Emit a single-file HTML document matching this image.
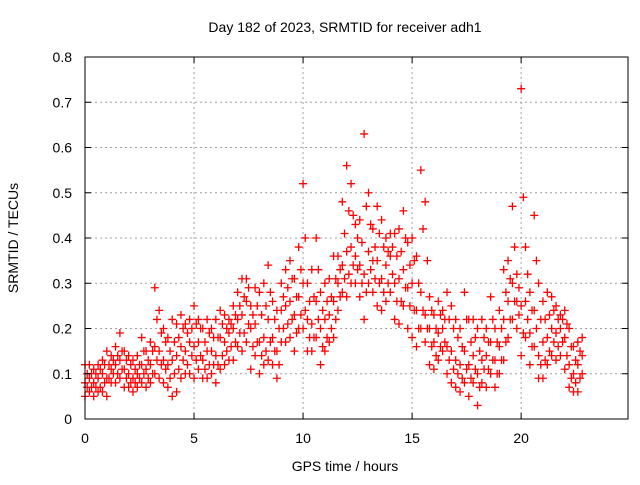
<!DOCTYPE html>
<html><head><meta charset="utf-8"><style>
body{margin:0;background:#fff}
svg text{font-family:"Liberation Sans",sans-serif;font-size:14px;fill:#000}
</style></head><body>
<svg id="chart" width="640" height="480" viewBox="0 0 640 480" xmlns="http://www.w3.org/2000/svg">
<text x="345" y="32" text-anchor="middle">Day 182 of 2023, SRMTID for receiver adh1</text>
<g id="grid"></g>
<g id="marks"></g>
<rect x="85" y="57" width="543" height="362" fill="none" stroke="#000" stroke-width="1"/>
<g id="ticks"></g>
<text transform="translate(18,238) rotate(-90)" text-anchor="middle">SRMTID / TECUs</text>
<text x="345" y="471" text-anchor="middle">GPS time / hours</text>
</svg>
<script>
const xTicks=[0,5,10,15,20];
const yTicks=[0,0.1,0.2,0.3,0.4,0.5,0.6,0.7,0.8];
const yTickLabels=["0","0.1","0.2","0.3","0.4","0.5","0.6","0.7","0.8"];
const tStart=0, tStep=0.2, tHalfStart=0.1;
const lo=[.05,.06,.05,.06,.06,.05,.08,.08,.09,.07,.07,.06,.07,.08,.07,.08,.10,.09,.08,.07,.05,.06,.09,.10,.10,.09,.11,.09,.09,.10,.08,.11,.12,.13,.13,.16,.15,.17,.11,.14,.10,.12,.13,.12,.09,.17,.17,.18,.15,.20,.20,.15,.15,.18,.12,.15,.17,.18,.24,.28,.27,.30,.30,.27,.22,.30,.28,.25,.24,.26,.28,.22,.21,.25,.20,.18,.16,.20,.17,.12,.11,.13,.15,.10,.08,.07,.06,.08,.05,.08,.03,.08,.07,.10,.07,.10,.13,.18,.22,.20,.14,.18,.12,.16,.09,.09,.12,.14,.13,.14,.11,.07,.06,.06,.10];
const mid=[.08,.09,.08,.09,.10,.09,.11,.12,.13,.11,.10,.09,.10,.12,.11,.12,.16,.15,.13,.12,.13,.14,.16,.15,.17,.16,.17,.13,.15,.15,.14,.18,.17,.19,.20,.22,.23,.26,.20,.21,.17,.18,.22,.18,.15,.24,.25,.26,.23,.27,.30,.22,.21,.26,.20,.22,.23,.26,.30,.34,.37,.38,.36,.34,.32,.37,.35,.35,.31,.34,.36,.30,.31,.33,.29,.30,.24,.28,.23,.20,.17,.19,.20,.16,.15,.13,.12,.15,.12,.14,.10,.13,.14,.17,.13,.16,.22,.26,.30,.26,.25,.26,.19,.24,.14,.17,.18,.20,.19,.20,.18,.12,.10,.12,.14];
const hi=[.12,.12,.11,.12,.13,.15,.14,.16,.19,.15,.14,.13,.14,.18,.15,.17,.29,.24,.20,.18,.22,.21,.23,.21,.22,.25,.22,.20,.22,.20,.22,.24,.23,.22,.25,.28,.31,.31,.25,.29,.28,.30,.34,.26,.24,.30,.33,.35,.31,.38,.52,.30,.33,.40,.28,.30,.31,.36,.36,.48,.56,.52,.43,.44,.63,.50,.42,.47,.44,.40,.41,.41,.42,.46,.39,.40,.36,.55,.48,.27,.23,.26,.24,.28,.25,.22,.20,.28,.22,.22,.20,.22,.20,.27,.20,.24,.33,.35,.47,.32,.73,.38,.28,.45,.30,.26,.28,.27,.25,.23,.24,.20,.16,.17,.18];
const halfLow=[.07,.07,.07,.07,.08,.09,.10,.10,.11,.09,.08,.08,.09,.10,.09,.10,.13,.12,.11,.09,.10,.11,.13,.12,.14,.13,.14,.11,.12,.12,.12,.14,.15,.16,.17,.19,.19,.21,.16,.17,.14,.15,.17,.15,.12,.20,.21,.22,.19,.23,.24,.18,.18,.22,.16,.18,.20,.22,.27,.31,.32,.34,.33,.30,.28,.33,.31,.30,.28,.30,.32,.26,.26,.29,.25,.24,.20,.24,.20,.16,.14,.16,.17,.13,.11,.10,.09,.11,.09,.11,.07,.11,.11,.13,.10,.13,.17,.22,.26,.23,.19,.22,.16,.20,.12,.13,.15,.17,.16,.17,.14,.09,.08,.09];
const halfHigh=[.10,.10,.10,.11,.12,.12,.13,.14,.15,.13,.12,.11,.12,.15,.13,.15,.22,.19,.17,.15,.17,.18,.20,.19,.20,.21,.20,.17,.19,.18,.18,.21,.20,.21,.23,.25,.27,.29,.23,.25,.23,.25,.28,.22,.20,.27,.29,.31,.27,.33,.40,.26,.27,.33,.24,.26,.27,.31,.33,.41,.46,.45,.40,.39,.47,.43,.38,.41,.38,.37,.38,.36,.37,.40,.34,.35,.30,.42,.35,.24,.20,.23,.22,.22,.20,.18,.16,.22,.17,.18,.15,.18,.17,.22,.17,.20,.28,.31,.38,.29,.49,.32,.24,.35,.22,.22,.23,.24,.22,.22,.21,.16,.13,.15];
const X0=85,X1=628,Y0=419,Y1=57,XMAX=24.9,YMAX=0.8;
const xs=v=>X0+(v/XMAX)*(X1-X0);
const ys=v=>Y0-(v/YMAX)*(Y0-Y1);
const NS="http://www.w3.org/2000/svg";
const grid=document.getElementById('grid'),ticks=document.getElementById('ticks'),marks=document.getElementById('marks');
function mk(tag,attrs,parent){const e=document.createElementNS(NS,tag);for(const k in attrs)e.setAttribute(k,attrs[k]);parent.appendChild(e);return e;}
xTicks.forEach((t,i)=>{
  const x=xs(t);
  if(i>0){const g=mk('line',{x1:x,x2:x,y1:Y1,y2:Y0,stroke:'#a0a0a0','stroke-dasharray':'2,3'},grid);
  
  }
  const a=mk('line',{x1:x,x2:x,y1:Y0,y2:Y0-6,stroke:'#000'},ticks);
  
  
  const b=mk('line',{x1:x,x2:x,y1:Y1,y2:Y1+6,stroke:'#000'},ticks);
  
  
  const tx=mk('text',{x:x,y:443,'text-anchor':'middle'},ticks);tx.textContent=String(t);
  
  
});
yTicks.forEach((v,i)=>{
  const y=ys(v);
  if(i>0&&i<yTicks.length-1){const g=mk('line',{x1:X0,x2:X1,y1:y,y2:y,stroke:'#a0a0a0','stroke-dasharray':'2,3'},grid);
  
  }
  const a=mk('line',{x1:X0,x2:X0+6,y1:y,y2:y,stroke:'#000'},ticks);
  
  
  const b=mk('line',{x1:X1,x2:X1-6,y1:y,y2:y,stroke:'#000'},ticks);
  
  
  const tx=mk('text',{x:72,y:y+5,'text-anchor':'end'},ticks);tx.textContent=yTickLabels[i];
  
  
});
let d='';
function plus(t,v){const x=xs(t),y=ys(v);d+=`M${x-4},${y}h8M${x},${y-4}v8`;}
[lo,mid,hi].forEach(arr=>arr.forEach((v,i)=>plus(tStart+i*tStep,v)));
[halfLow,halfHigh].forEach(arr=>arr.forEach((v,i)=>plus(tHalfStart+i*tStep,v)));
const p=mk('path',{d:d,stroke:'#ff0000','stroke-width':1.3,fill:'none'},marks);


</script>
</body></html>
